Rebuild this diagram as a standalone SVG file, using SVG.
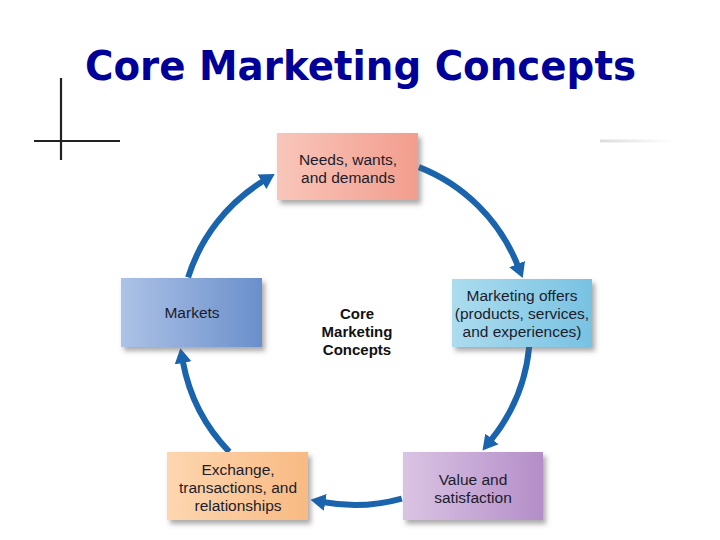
<svg xmlns="http://www.w3.org/2000/svg" width="720" height="540" viewBox="0 0 720 540">
<style>
.t{font-family:"Liberation Sans",Arial,sans-serif;font-size:15.5px;fill:#1c1c2c;text-anchor:middle}
.c{font-family:"Liberation Sans",Arial,sans-serif;font-size:15px;font-weight:bold;fill:#111;text-anchor:middle}
.arc{fill:none;stroke:#1a63ad;stroke-width:6;marker-end:url(#ah)}
.box{filter:url(#sh)}
</style>
<defs>
<marker id="ah" markerUnits="userSpaceOnUse" markerWidth="18" markerHeight="18" refX="1" refY="8.5" orient="auto" viewBox="0 0 18 17">
<path d="M0,0 L15,8.5 L0,17 z" fill="#1a63ad"/>
</marker>
<filter id="sh" x="-10%" y="-10%" width="130%" height="140%">
<feDropShadow dx="3" dy="4" stdDeviation="2.5" flood-color="#555" flood-opacity="0.5"/>
</filter>
<linearGradient id="gN" x1="0" x2="1" y1="0" y2="0"><stop offset="0" stop-color="#f8c6ba"/><stop offset="1" stop-color="#f29d8d"/></linearGradient>
<linearGradient id="gM" x1="0" x2="1" y1="0" y2="0"><stop offset="0" stop-color="#acdcee"/><stop offset="1" stop-color="#78c2e2"/></linearGradient>
<linearGradient id="gK" x1="0" x2="1" y1="0" y2="0"><stop offset="0" stop-color="#adc2e6"/><stop offset="1" stop-color="#6a8fcb"/></linearGradient>
<linearGradient id="gE" x1="0" x2="1" y1="0" y2="0"><stop offset="0" stop-color="#fdd6b0"/><stop offset="1" stop-color="#f8ba82"/></linearGradient>
<linearGradient id="gV" x1="0" x2="1" y1="0" y2="0"><stop offset="0" stop-color="#dac4e3"/><stop offset="1" stop-color="#b48ec8"/></linearGradient>
<linearGradient id="gL" x1="0" x2="1" y1="0" y2="0"><stop offset="0" stop-color="#dcdcdc"/><stop offset="1" stop-color="#ffffff"/></linearGradient>
</defs>
<rect width="720" height="540" fill="#ffffff"/>
<g id="title">
<text x="85" y="80" font-family="'DejaVu Sans',Verdana,sans-serif" font-size="41" font-weight="bold" fill="#000099" textLength="551" lengthAdjust="spacingAndGlyphs">Core Marketing Concepts</text>
</g>
<g id="decor">
<line x1="61" y1="78" x2="61" y2="160" stroke="#222" stroke-width="2.2"/>
<line x1="34" y1="141" x2="120" y2="141" stroke="#222" stroke-width="2.2"/>
<rect x="600" y="139.5" width="72" height="3" fill="url(#gL)"/>
</g>
<g id="connectors">
<path class="arc" d="M418.9,167.1 A175,175 0 0 1 517.5,265"/>
<path class="arc" d="M529.2,346.8 A175,175 0 0 1 491.3,439.7"/>
<path class="arc" d="M401.8,498.6 A175,175 0 0 1 324.3,502.3"/>
<path class="arc" d="M229.3,451.8 A175,175 0 0 1 182.9,361.9"/>
<path class="arc" d="M188.1,277.4 A175,175 0 0 1 262.8,181.3"/>
</g>
<g id="center">
<text class="c" x="357" y="319">Core</text>
<text class="c" x="357" y="337">Marketing</text>
<text class="c" x="357" y="355">Concepts</text>
</g>
<g id="needs">
<rect class="box" x="277" y="133" width="141" height="67" fill="url(#gN)"/>
<text class="t" x="348" y="165">Needs, wants,</text>
<text class="t" x="348" y="183">and demands</text>
</g>
<g id="offers">
<rect class="box" x="452" y="279" width="140" height="68" fill="url(#gM)"/>
<text class="t" x="522" y="301">Marketing offers</text>
<text class="t" x="522" y="319">(products, services,</text>
<text class="t" x="522" y="337">and experiences)</text>
</g>
<g id="markets">
<rect class="box" x="121" y="278" width="141" height="69" fill="url(#gK)"/>
<text class="t" x="192" y="318">Markets</text>
</g>
<g id="exchange">
<rect class="box" x="167" y="452" width="141" height="68" fill="url(#gE)"/>
<text class="t" x="238" y="475">Exchange,</text>
<text class="t" x="238" y="493">transactions, and</text>
<text class="t" x="238" y="511">relationships</text>
</g>
<g id="value">
<rect class="box" x="403" y="452" width="140" height="68" fill="url(#gV)"/>
<text class="t" x="473" y="485">Value and</text>
<text class="t" x="473" y="503">satisfaction</text>
</g>
</svg>
